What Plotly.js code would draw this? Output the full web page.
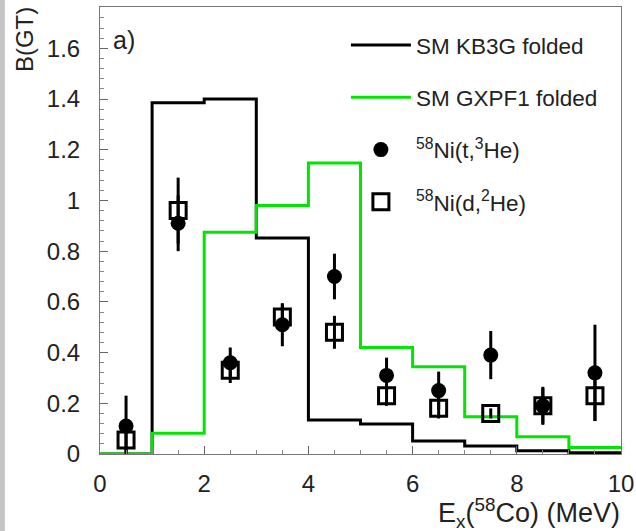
<!DOCTYPE html>
<html>
<head>
<meta charset="utf-8">
<script src="https://cdn.plot.ly/plotly-3.0.1.min.js"></script>
<style>html,body{margin:0;padding:0;background:#fff;}#chart{width:636px;height:531px;}</style>
</head>
<body>
<div id="chart"></div>
<script>
// Bin edges (MeV) and bin centres
var binEdges = [0, 1, 2, 3, 4, 5, 6, 7, 8, 9, 10];
var binCenters = [0.5, 1.5, 2.5, 3.5, 4.5, 5.5, 6.5, 7.5, 8.5, 9.5];
// Shell-model folded B(GT) per 1-MeV bin
var kb3g = [0, 1.385, 1.40, 0.852, 0.134, 0.118, 0.051, 0.032, 0.013, 0.005];
var gxpf1 = [0, 0.082, 0.875, 0.980, 1.148, 0.420, 0.344, 0.147, 0.068, 0.026];
// 58Ni(t,3He)
var tHe = [0.11, 0.91, 0.36, 0.51, 0.70, 0.31, 0.25, 0.39, 0.19, 0.32];
var tHeErr = [0.12, 0.11, 0.06, 0.085, 0.09, 0.07, 0.075, 0.095, 0.075, 0.19];
// 58Ni(d,2He)
var dHe = [0.055, 0.96, 0.33, 0.54, 0.48, 0.23, 0.18, 0.16, 0.19, 0.23];
var dHeErr = [0.05, 0.13, 0.05, 0.05, 0.065, 0.04, 0.04, 0.02, 0.07, 0.10];

function stepY(v) { return v.concat([v[v.length - 1]]); }

var FONT = 'Liberation Sans, Arial, Helvetica, sans-serif';

var traces = [
  {x: binEdges, y: stepY(kb3g), type: 'scatter', mode: 'lines', line: {shape: 'hv', color: '#000', width: 3},
   name: 'SM KB3G folded', legendgroup: 'a'},
  {x: binEdges, y: stepY(gxpf1), type: 'scatter', mode: 'lines', line: {shape: 'hv', color: '#00e600', width: 3},
   name: 'SM GXPF1 folded', legendgroup: 'b'},
  {x: binCenters, y: tHe, type: 'scatter', mode: 'markers',
   marker: {symbol: 'circle', size: 15, color: '#000'},
   error_y: {type: 'data', array: tHeErr, visible: true, color: '#000', thickness: 3, width: 0},
   name: '<sup>58</sup>Ni(t,<sup>3</sup>He)', legendgroup: 'c'},
  {x: binCenters, y: dHe, type: 'scatter', mode: 'markers',
   marker: {symbol: 'square-open', size: 16, color: '#000', line: {width: 3, color: '#000'}},
   error_y: {type: 'data', array: dHeErr, visible: true, color: '#000', thickness: 3, width: 0},
   name: '<sup>58</sup>Ni(d,<sup>2</sup>He)', legendgroup: 'd'}
];

var layout = {
  width: 636, height: 531,
  margin: {l: 100, r: 15, t: 7, b: 77, pad: 0},
  paper_bgcolor: '#fff', plot_bgcolor: '#fff',
  font: {family: FONT, size: 24, color: '#222'},
  showlegend: true,
  legend: {x: 0.472, y: 0.962, xanchor: 'left', yanchor: 'top', bgcolor: 'rgba(0,0,0,0)',
           font: {family: FONT, size: 22.5, color: '#222'}, tracegroupgap: 20, itemwidth: 60},
  xaxis: {range: [0, 10], dtick: 2, tick0: 0, ticks: 'inside', ticklen: 8, tickwidth: 1, tickcolor: '#666',
          showline: true, linecolor: '#777', linewidth: 1, mirror: true, showgrid: false, zeroline: false,
          tickfont: {family: FONT, size: 24, color: '#222'}, ticklabelstandoff: 8,
          minor: {dtick: 0.5, ticks: 'inside', ticklen: 4, tickcolor: '#888'}},
  yaxis: {range: [0, 1.763], dtick: 0.2, tick0: 0, ticks: 'inside', ticklen: 8, tickwidth: 1, tickcolor: '#666',
          showline: true, linecolor: '#777', linewidth: 1, mirror: true, showgrid: false, zeroline: false,
          tickfont: {family: FONT, size: 24, color: '#222'}, ticklabelstandoff: 14,
          minor: {dtick: 0.04, ticks: 'inside', ticklen: 4, tickcolor: '#888'}},
  shapes: [
    {type: 'rect', xref: 'paper', yref: 'paper', x0: -0.2, x1: -0.1825, y0: -0.2, y1: 1.02,
     fillcolor: '#c4c4c4', line: {width: 0}, layer: 'below'}
  ],
  annotations: [
    {xref: 'paper', yref: 'paper', x: -0.146, y: 0.928, xanchor: 'center', yanchor: 'middle',
     text: 'B(GT)', textangle: -90, showarrow: false, font: {family: FONT, size: 24, color: '#222'}},
    {xref: 'paper', yref: 'paper', x: 1.002, y: -0.178, xanchor: 'right', yanchor: 'bottom',
     text: 'E<sub>x</sub>(<sup>58</sup>Co) (MeV)', showarrow: false, font: {family: FONT, size: 27, color: '#222'}},
    {xref: 'x', yref: 'y', x: 0.46, y: 1.633, xanchor: 'center', yanchor: 'middle',
     text: 'a)', showarrow: false, font: {family: FONT, size: 25, color: '#222'}}
  ]
};

Plotly.newPlot('chart', traces, layout, {displayModeBar: false, staticPlot: true});
</script>
</body>
</html>
